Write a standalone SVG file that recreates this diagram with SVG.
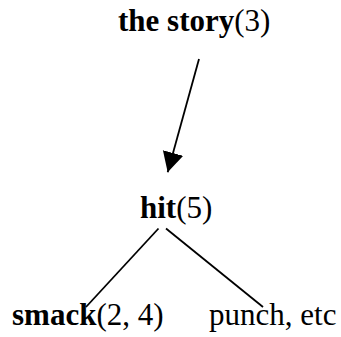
<svg xmlns="http://www.w3.org/2000/svg" width="341" height="337" viewBox="0 0 341 337">
<style>
text{font-family:"Liberation Serif","Times New Roman",serif;font-size:31px;fill:#000}
.b{font-weight:bold}
.e{stroke:#000;stroke-width:1.8;fill:none}
</style>
<defs>
<marker id="ah" markerUnits="userSpaceOnUse" markerWidth="22" markerHeight="22" refX="20" refY="10.5" orient="auto" viewBox="0 0 22 22">
<path d="M0,0 L20,10.5 L0,21 Z" fill="#000"/>
</marker>
</defs>
<rect width="341" height="337" fill="#fff"/>
<g id="connectors">
<line class="e" x1="199" y1="59" x2="167.7" y2="172.3" marker-end="url(#ah)"/>
<line class="e" x1="158.5" y1="228.5" x2="86" y2="307"/>
<line class="e" x1="166" y1="228.5" x2="263" y2="307"/>
</g>
<g id="story"><text x="118" y="31"><tspan class="b">the story</tspan>(3)</text></g>
<g id="hit"><text x="140" y="218"><tspan class="b">hit</tspan>(5)</text></g>
<g id="smack"><text x="12" y="325"><tspan class="b">smack</tspan>(2, 4)</text></g>
<g id="punch"><text x="209" y="325">punch, etc</text></g>
</svg>
